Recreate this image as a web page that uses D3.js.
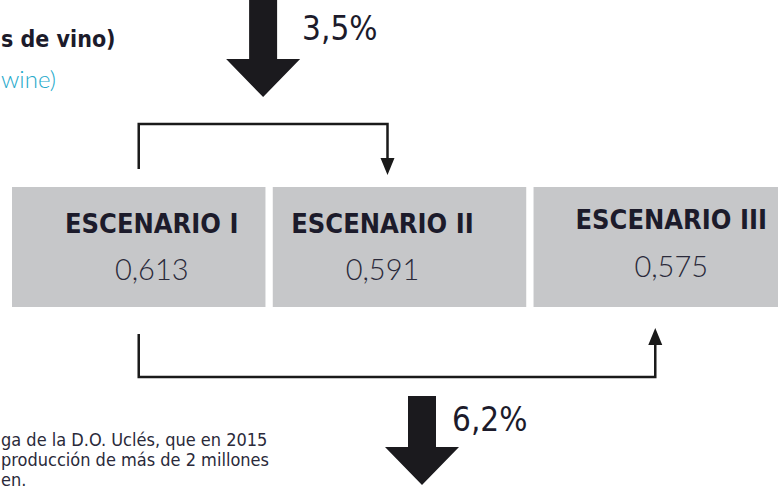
<!DOCTYPE html>
<html>
<head>
<meta charset="utf-8">
<script src="https://cdn.jsdelivr.net/npm/d3@7"></script>
<style>
  body { margin: 0; background: #fff; }
  svg { display: block; font-family: "DejaVu Sans Condensed", "DejaVu Sans", sans-serif; }
</style>
</head>
<body>
<svg class="chart" width="778" height="496"></svg>
<script>
// data
var scenarios = ["ESCENARIO I", "ESCENARIO II", "ESCENARIO III"];
var values = [0.613, 0.591, 0.575];
var reductions = ["3,5%", "6,2%"];
var titleText = "s de vino)";
var subtitleText = "wine)";
var noteLines = ["ga de la D.O. Uclés, que en 2015", "producción de más de 2 millones", "en."];

var width = 778, height = 496;
var dark = "#1c1b2b", boxFill = "#c6c7c9";
var fmt = function(v){ return d3.format(".3f")(v).replace(".", ","); };
// text is not centred the same way in every box
var textShift = [13, -17, 11];

var chart = d3.select('.chart');

var x = d3.scaleBand()
	.domain(scenarios)
	.range([12, 787])
	.paddingInner(0.028);
var bw = x.bandwidth();
var boxTop = 187, boxBottom = 307;

// boxes
var boxes = chart.selectAll('.box')
	.data(scenarios)
	.enter().append('g')
	.attr('class', 'box');

boxes.append('rect')
	.attr('x', function(d){ return x(d); })
	.attr('y', boxTop)
	.attr('width', bw)
	.attr('height', boxBottom - boxTop)
	.style('fill', boxFill);

boxes.append('text')
	.attr('x', function(d,i){ return x(d) + bw/2 + textShift[i]; })
	.attr('y', function(d,i){ return i == 2 ? 229 : 233; })
	.attr('text-anchor', 'middle')
	.style('font-weight', 'bold')
	.style('font-size', '27px')
	.style('fill', dark)
	.text(function(d){ return d; });

boxes.append('text')
	.attr('x', function(d,i){ return x(d) + bw/2 + textShift[i]; })
	.attr('y', function(d,i){ return i == 2 ? 277 : 280; })
	.attr('text-anchor', 'middle')
	.style('font-family', 'Lato, sans-serif')
	.style('font-weight', 300)
	.style('font-size', '29px')
	.style('fill', "#2a2a3a")
	.text(function(d,i){ return fmt(values[i]); });

// connectors
function cx(i, off){ return x(scenarios[i]) + bw/2 + off; }
var x0 = cx(0, 0), x1 = cx(1, -12), x2 = cx(2, -5);

var arrowHead = function(px, py, dir){
	// dir 1 = points down, -1 = points up
	return "M" + (px-7) + "," + (py - dir*17) + "L" + (px+7) + "," + (py - dir*17) + "L" + px + "," + py + "Z";
};

chart.append('path')
	.attr('d', "M" + x0 + ",169V124H" + x1 + "V162")
	.attr('fill', 'none')
	.attr('stroke', '#1a1a1a')
	.attr('stroke-width', 2.5);
chart.append('path')
	.attr('d', arrowHead(x1, 175, 1))
	.style('fill', '#1a1a1a');

chart.append('path')
	.attr('d', "M" + x0 + ",334V377H" + x2 + "V340")
	.attr('fill', 'none')
	.attr('stroke', '#1a1a1a')
	.attr('stroke-width', 2.5);
chart.append('path')
	.attr('d', arrowHead(x2, 328, -1))
	.style('fill', '#1a1a1a');

// big arrows
function bigArrow(px, top, tip){
	var shaft = 14, head = 37, headH = 38;
	return "M" + (px-shaft) + "," + top + "H" + (px+shaft) + "V" + (tip-headH) +
		"H" + (px+head) + "L" + px + "," + tip + "L" + (px-head) + "," + (tip-headH) +
		"H" + (px-shaft) + "Z";
}
var ax1 = (x0 + x1)/2, ax2 = (x0 + x2)/2 + 25;
chart.append('path').attr('d', bigArrow(ax1, 0, 97)).style('fill', '#1b1a1e');
chart.append('path').attr('d', bigArrow(ax2, 396, 485)).style('fill', '#1b1a1e');

chart.append('text')
	.attr('x', ax1 + 39).attr('y', 40)
	.style('font-size', '33px')
	.style('fill', dark)
	.text(reductions[0]);
chart.append('text')
	.attr('x', ax2 + 30).attr('y', 431)
	.style('font-size', '33px')
	.style('fill', dark)
	.text(reductions[1]);

// title fragments
chart.append('text')
	.attr('x', 1).attr('y', 47)
	.style('font-weight', 'bold')
	.style('font-size', '23px')
	.style('fill', dark)
	.text(titleText);
chart.append('text')
	.attr('x', 1).attr('y', 88)
	.style('font-family', 'Lato, sans-serif')
	.style('font-weight', 300)
	.style('font-size', '24px')
	.style('fill', '#27aacb')
	.text(subtitleText);

// note
chart.append('g').selectAll('text')
	.data(noteLines)
	.enter().append('text')
	.attr('x', 1)
	.attr('y', function(d,i){ return 446 + i*20; })
	.style('font-size', '18px')
	.style('fill', '#2a2a3a')
	.text(function(d){ return d; });
</script>
</body>
</html>
